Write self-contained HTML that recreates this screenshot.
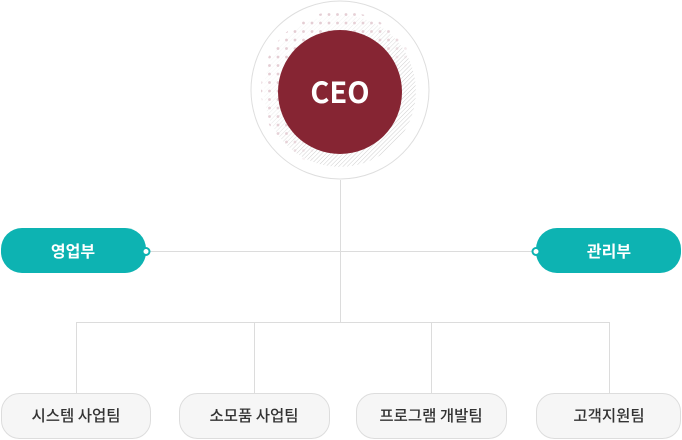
<!DOCTYPE html>
<html><head><meta charset="utf-8"><style>
html,body{margin:0;padding:0;background:#fff;width:682px;height:440px;overflow:hidden}
svg{display:block}
text{font-family:"Liberation Sans","Noto Sans CJK KR",sans-serif}
.k{font-family:"Noto Sans CJK KR","Liberation Sans",sans-serif}
</style></head><body>
<svg width="682" height="440" viewBox="0 0 682 440" xmlns="http://www.w3.org/2000/svg">
<defs>
<pattern id="hatch" width="3" height="3" patternUnits="userSpaceOnUse" patternTransform="rotate(45)">
<line x1="0" y1="0" x2="0" y2="3" stroke="#cfcfcf" stroke-width="1"/>
</pattern>
<pattern id="dots" width="8.5" height="8.5" patternUnits="userSpaceOnUse" x="2" y="2">
<circle cx="4" cy="4" r="1.4" fill="#e2c9d0"/>
</pattern>
<linearGradient id="fadeD" x1="0" y1="0" x2="1" y2="1">
<stop offset="0" stop-color="#fff"/><stop offset="0.5" stop-color="#fff" stop-opacity="0.8"/><stop offset="0.65" stop-color="#fff" stop-opacity="0"/>
</linearGradient>
<linearGradient id="fadeH" x1="0" y1="0" x2="1" y2="1">
<stop offset="0.25" stop-color="#fff" stop-opacity="0.2"/><stop offset="0.6" stop-color="#fff"/><stop offset="1" stop-color="#fff"/>
</linearGradient>
<mask id="mD"><circle cx="340" cy="90" r="79" fill="url(#fadeD)"/></mask>
<mask id="mH"><circle cx="340" cy="91" r="76" fill="url(#fadeH)"/></mask>
</defs>
<g stroke="#dcdcdc" stroke-width="1" fill="none">
<line x1="340.5" y1="180" x2="340.5" y2="322"/>
<line x1="146" y1="251.5" x2="536" y2="251.5"/>
<line x1="76.5" y1="322.5" x2="609.5" y2="322.5"/>
<line x1="76.5" y1="322" x2="76.5" y2="393"/>
<line x1="254.5" y1="322" x2="254.5" y2="393"/>
<line x1="431.5" y1="322" x2="431.5" y2="393"/>
<line x1="609.5" y1="322" x2="609.5" y2="393"/>
</g>
<circle cx="340" cy="90" r="89" fill="#fff" stroke="#dedede" stroke-width="1"/>
<circle cx="340" cy="91" r="76" fill="url(#hatch)" mask="url(#mH)"/>
<circle cx="340" cy="90" r="79" fill="url(#dots)" mask="url(#mD)"/>
<circle cx="340" cy="92" r="62" fill="#862533"/>
<text class="k" x="340" y="103" text-anchor="middle" font-size="29" font-weight="bold" fill="#fff">CEO</text>
<rect x="1" y="228" width="145" height="45" rx="21" fill="#0db3b2"/>
<text class="k" x="73" y="257" text-anchor="middle" font-size="16" font-weight="bold" fill="#fff">영업부</text>
<circle cx="146" cy="251.5" r="3.5" fill="#fff" stroke="#0db3b2" stroke-width="2"/>
<rect x="536" y="228" width="145" height="45" rx="21" fill="#0db3b2"/>
<text class="k" x="609" y="257" text-anchor="middle" font-size="16" font-weight="bold" fill="#fff">관리부</text>
<circle cx="536" cy="251.5" r="3.5" fill="#fff" stroke="#0db3b2" stroke-width="2"/>
<g fill="#f6f6f6" stroke="#dddddd" stroke-width="1">
<rect x="1.5" y="393.5" width="149" height="45" rx="18"/>
<rect x="179.5" y="393.5" width="150" height="45" rx="18"/>
<rect x="356.5" y="393.5" width="150" height="45" rx="18"/>
<rect x="536.5" y="393.5" width="144" height="45" rx="18"/>
</g>
<g class="k" font-size="15.5" font-weight="500" fill="#333" text-anchor="middle">
<text class="k" x="76" y="421">시스템 사업팀</text>
<text class="k" x="254" y="421">소모품 사업팀</text>
<text class="k" x="431" y="421">프로그램 개발팀</text>
<text class="k" x="609" y="421">고객지원팀</text>
</g>
</svg>
</body></html>
